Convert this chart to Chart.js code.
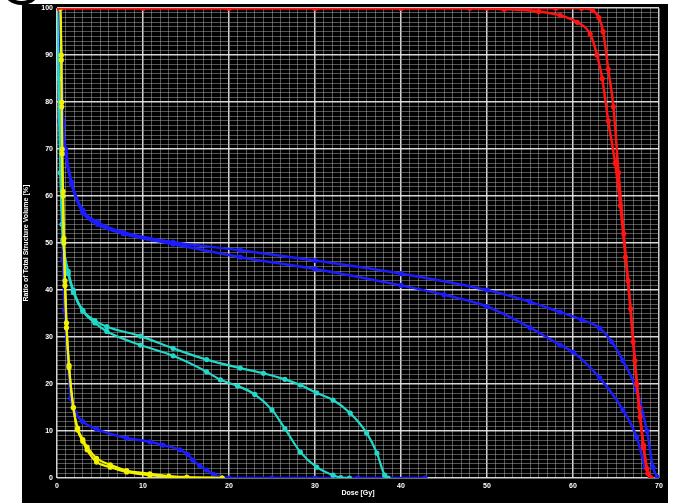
<!DOCTYPE html>
<html>
<head>
<meta charset="utf-8">
<script src="https://cdn.jsdelivr.net/npm/chart.js@4.4.1/dist/chart.umd.min.js"></script>
<style>
  html, body { margin: 0; padding: 0; background: #ffffff; }
  #wrap { position: relative; width: 675px; height: 503px; overflow: hidden; }
  #ring { position: absolute; left: 3px; top: -26px; width: 29px; height: 23px;
          border: 4px solid #000; border-radius: 50%; }
  canvas { position: absolute; left: 0; top: 0; }
</style>
</head>
<body>
<div id="wrap">
  <canvas id="dvh" width="675" height="503"></canvas>
  <div id="ring"></div>
</div>
<script>
// Dose-volume histogram: dose in Gy, volume in % of total structure volume.

// Target (red), two plans
const ptvADose = [0, 10, 20, 30, 40, 50, 58, 61, 62.3, 63.0, 63.5, 64.1, 64.7, 65.3, 65.9, 66.4, 67.0, 67.4, 67.8, 68.2, 68.7, 69.1];
const ptvAVol  = [100, 100, 100, 100, 100, 100, 100, 100, 99.5, 98, 95, 87, 79, 65, 52, 42, 29, 20, 13, 6.5, 1, 0];
const ptvBDose = [0, 10, 20, 30, 40, 48, 52, 56, 58.5, 60.5, 62.0, 62.8, 63.4, 64.1, 64.9, 65.5, 66.1, 66.7, 67.2, 67.7, 68.2, 68.6, 69.0];
const ptvBVol  = [100, 100, 100, 100, 100, 100, 99.8, 99.3, 98.5, 97, 94.5, 90, 85, 76, 67, 58, 47, 36, 25, 15, 7, 2, 0];

// Organ at risk (blue), two plans
const oarADose = [0, 0.3, 0.5, 0.7, 1.0, 1.7, 3.0, 4.7, 7.7, 13.5, 21.3, 30, 40, 50, 55, 58.5, 61, 63.1, 64.5, 65.8, 67.4, 68.6, 69.3, 69.8];
const oarAVol  = [100, 99, 90, 76, 70, 63, 57, 54.5, 52.3, 50.2, 48.5, 46.3, 43.5, 40, 37.5, 35.3, 33.7, 31.9, 29, 25, 18.7, 10, 2.3, 0.2];
const oarBDose = [0, 0.3, 0.5, 0.7, 1.0, 1.7, 3.0, 4.7, 7.7, 13.5, 21.3, 30, 40, 45, 50, 55, 58.5, 60, 63.1, 65.8, 67.4, 68.4, 69.0];
const oarBVol  = [100, 99, 89, 75, 69, 62.5, 56.5, 54, 52, 49.8, 47, 44.5, 41, 39, 36.5, 32, 28.3, 26.8, 21.3, 14.5, 8.7, 2.3, 0.2];

// Second organ at risk (blue, steep fall-off)
const oarCDose = [0, 0.2, 0.35, 0.6, 0.7, 0.9, 1.3, 1.6, 2.1, 3.0, 4.6, 8.1, 10.8, 12.3, 14.3, 15.2, 15.8, 16.6, 17.4, 18.2, 19, 20, 25, 30, 35, 42.8];
const oarCVol  = [100, 95, 76, 55, 46.4, 35.7, 24, 17, 14, 12, 10.4, 8.5, 7.7, 7, 6, 5, 3.8, 2.6, 1.7, 0.8, 0.2, 0, 0, 0, 0, 0];

// Third organ at risk (cyan), two plans
const oarDDose = [0, 0.2, 0.4, 0.6, 0.7, 1.3, 1.9, 3.0, 4.4, 5.8, 9.7, 13.5, 17.4, 21.3, 24, 26.5, 28.3, 30.2, 32.1, 34.1, 36, 37.2, 38.1, 38.5];
const oarDVol  = [100, 85, 65, 54, 50.6, 44, 40, 35.7, 33.5, 32.2, 30.2, 27.6, 25.2, 23.4, 22.3, 21, 19.8, 18.1, 16.6, 13.8, 9.6, 5.3, 0.6, 0];
const oarEDose = [0, 0.2, 0.4, 0.6, 0.7, 1.3, 1.9, 3.0, 4.4, 5.8, 9.7, 13.5, 17.4, 19, 21, 23, 25, 26.5, 28.3, 30.2, 32.1, 33, 34];
const oarEVol  = [100, 85, 65, 54, 50.6, 43.5, 39.5, 35.5, 33, 31.2, 28.3, 26, 22.6, 20.9, 19.6, 17.8, 14.5, 10.5, 5.5, 2.3, 0.6, 0.1, 0];

// Fourth organ at risk (yellow), two plans
const oarFDose = [0, 0.4, 0.5, 0.55, 0.6, 0.7, 0.8, 0.93, 1.1, 1.4, 1.9, 2.4, 3.0, 3.5, 4.6, 6.2, 8.1, 10.8, 15.1, 19.2];
const oarFVol  = [100, 100, 90, 80, 70, 61, 51, 42, 33, 24, 15, 10.2, 7.8, 6, 3.4, 2.3, 1.3, 0.6, 0.1, 0];
const oarGDose = [0, 0.4, 0.5, 0.55, 0.6, 0.7, 0.8, 0.93, 1.1, 1.4, 1.9, 2.4, 3.0, 3.5, 4.6, 6.2, 8.1, 10.8, 13, 15.1, 19.2];
const oarGVol  = [100, 100, 89, 79, 69, 60, 50, 41, 32, 23.5, 15, 10.6, 8.2, 6.6, 4.2, 2.8, 1.6, 0.9, 0.4, 0.2, 0];

// Axis ticks
const doseTicks = [0, 10, 20, 30, 40, 50, 60, 70];
const volumeTicks = [0, 10, 20, 30, 40, 50, 60, 70, 80, 90, 100];

const RED = '#ff1414';
const BLUE = '#1c1cff';
const CYAN = '#22d8c8';
const YELLOW = '#f2f200';

function pairs(xs, ys) {
  return xs.map((x, i) => ({ x: x, y: ys[i] }));
}

function curve(xs, ys, color, width) {
  return {
    data: pairs(xs, ys),
    borderColor: color,
    backgroundColor: color,
    borderWidth: width,
    pointRadius: 2.6,
    pointBorderWidth: 0,
    pointBackgroundColor: color,
    cubicInterpolationMode: 'monotone',
    fill: false
  };
}

// Black panel behind the whole figure
const panel = {
  id: 'panel',
  beforeDraw(chart) {
    const ctx = chart.ctx;
    ctx.save();
    ctx.fillStyle = '#ffffff';
    ctx.fillRect(0, 0, chart.width, chart.height);
    ctx.fillStyle = '#000000';
    ctx.fillRect(22, 4, 646, 499);
    ctx.restore();
  }
};

const gridColor = (ctx) => (ctx.tick && ctx.tick.value % 10 === 0)
  ? 'rgba(235,235,235,0.9)' : 'rgba(170,170,170,0.5)';
const gridWidth = (ctx) => (ctx.tick && ctx.tick.value % 10 === 0) ? 1.5 : 1;
const tickFont = { family: 'Liberation Sans', size: 7, weight: 'bold' };

new Chart(document.getElementById('dvh'), {
  type: 'line',
  data: {
    datasets: [
      curve(ptvADose, ptvAVol, RED, 2.5),
      curve(ptvBDose, ptvBVol, RED, 2.5),
      curve(oarFDose, oarFVol, YELLOW, 2.2),
      curve(oarGDose, oarGVol, YELLOW, 2.2),
      curve(oarDDose, oarDVol, CYAN, 2.2),
      curve(oarEDose, oarEVol, CYAN, 2.2),
      curve(oarADose, oarAVol, BLUE, 2.5),
      curve(oarBDose, oarBVol, BLUE, 2.5),
      curve(oarCDose, oarCVol, BLUE, 2.5)
    ]
  },
  options: {
    responsive: false,
    animation: false,
    devicePixelRatio: 1,
    layout: { padding: { left: 22, right: 16, top: 8, bottom: 0 } },
    plugins: { legend: { display: false }, tooltip: { enabled: false } },
    scales: {
      x: {
        type: 'linear',
        min: 0, max: 70,
        afterFit(scale) { scale.height = 25; },
        border: { display: false },
        grid: { color: gridColor, lineWidth: gridWidth, drawTicks: false },
        ticks: {
          stepSize: 1, autoSkip: false, maxRotation: 0, padding: 4,
          color: '#ffffff', font: tickFont,
          callback: (v) => doseTicks.includes(v) ? String(v) : ''
        },
        title: {
          display: true, text: 'Dose [Gy]', color: '#ffffff',
          font: { family: 'Liberation Sans', size: 7, weight: 'bold' },
          padding: { top: 0, bottom: 6 }
        }
      },
      y: {
        type: 'linear',
        min: 0, max: 100,
        afterFit(scale) { scale.width = 35; },
        border: { display: false },
        grid: { color: gridColor, lineWidth: gridWidth, drawTicks: false },
        ticks: {
          stepSize: 1, autoSkip: false, padding: 4,
          color: '#ffffff', font: tickFont,
          callback: (v) => volumeTicks.includes(v) ? String(v) : ''
        },
        title: {
          display: true, text: 'Ratio of Total Structure Volume [%]', color: '#ffffff',
          font: { family: 'Liberation Sans', size: 7, weight: 'bold' },
          padding: { top: 0, bottom: 0 }
        }
      }
    }
  },
  plugins: [panel]
});
</script>
</body>
</html>
